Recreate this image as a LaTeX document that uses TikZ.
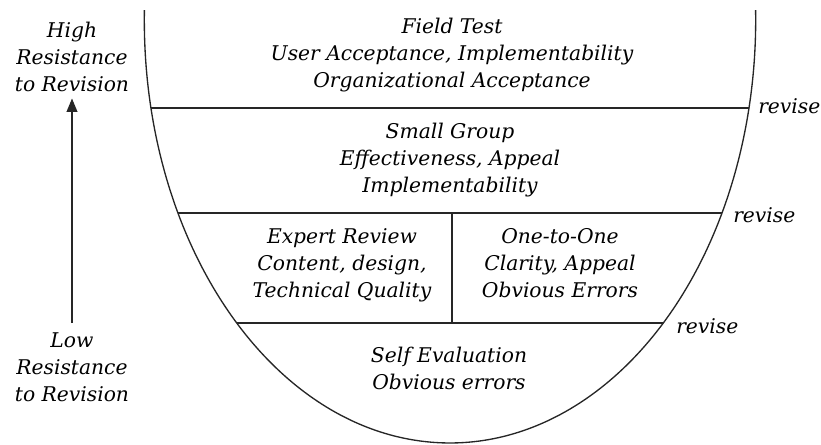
\documentclass[tikz,border=0pt]{standalone}
\usepackage{fontspec}
\setmainfont{DejaVu Serif}
\usepackage{tikz}
\usetikzlibrary{arrows.meta}

\tikzset{
  lbl/.style={inner sep=0.75pt, align=center, font=\fontsize{15.2}{20.25}\selectfont\itshape},
  rev/.style={inner sep=0.75pt, anchor=west, font=\fontsize{15.2}{20.25}\selectfont\itshape},
  edge/.style={draw=black!85, line width=1pt},
}

\begin{document}
\begin{tikzpicture}[x=0.75pt,y=0.75pt,yscale=-1,xscale=1]
\useasboundingbox (0,0) rectangle (821,444);

% the bowl
\draw [edge] (450,20) ++(181.35:305.7 and 423) arc [start angle=181.35, end angle=-1.35, x radius=305.7, y radius=423];

% levels inside the bowl
\begin{scope}
\clip (450,20) ellipse [x radius=305.7, y radius=423];
\draw [edge] (100,108) -- (800,108) ;
\draw [edge] (100,213) -- (800,213) ;
\draw [edge] (100,323) -- (800,323) ;
\end{scope}
\draw [edge] (452,213) -- (452,323) ;

% texts
\node [lbl] (field) at (452,55) {Field Test\\User Acceptance, Implementability\\Organizational Acceptance};
\node [lbl] (small) at (450,160) {Small Group\\Effectiveness, Appeal\\Implementability};
\node [lbl, anchor=north] (expert) at (342,227) {Expert Review\\Content, design,\\Technical Quality};
\node [lbl, anchor=north] (one) at (560,227) {One-to-One\\Clarity, Appeal\\Obvious Errors};
\node [lbl] (self) at (449,368) {Self Evaluation\\Obvious errors};

\node [rev] (rev1) at (757,106) {revise};
\node [rev] (rev2) at (732,215) {revise};
\node [rev] (rev3) at (675,326) {revise};

\node [lbl] (high) at (72,57) {High\\Resistance\\to Revision};
\node [lbl] (low) at (72,367) {Low\\Resistance\\to Revision};

\draw [edge, -{Triangle[width=8pt,length=10pt]}, shorten <=6pt, shorten >=4pt] (low) -- (high) ;

\end{tikzpicture}
\end{document}
